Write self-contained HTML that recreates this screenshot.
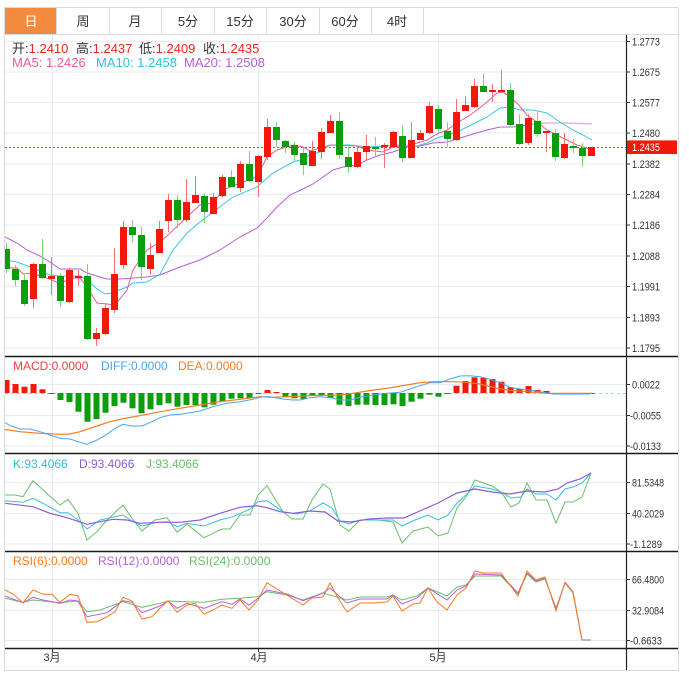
<!DOCTYPE html>
<html><head><meta charset="utf-8"><style>
html,body{margin:0;padding:0;background:#fff;width:689px;height:679px;overflow:hidden}
svg{display:block;font-family:"Liberation Sans","Noto Sans CJK SC",sans-serif}
</style></head><body>
<svg width="689" height="679" viewBox="0 0 689 679" xmlns="http://www.w3.org/2000/svg">
<defs>
<clipPath id="c"><rect x="5" y="34" width="621" height="614"/></clipPath>
</defs>
<rect x="0" y="0" width="689" height="679" fill="#fff"/>
<rect x="4.5" y="7.5" width="674" height="663" fill="none" stroke="#dcdcdc"/>
<!-- tabs -->
<g stroke="#dcdcdc" fill="none">
<rect x="5" y="8" width="51" height="26" fill="#f28b3e" stroke="none"/>
<line x1="56.5" y1="8" x2="56.5" y2="34"/><line x1="109.5" y1="8" x2="109.5" y2="34"/>
<line x1="161.5" y1="8" x2="161.5" y2="34"/><line x1="214.5" y1="8" x2="214.5" y2="34"/>
<line x1="266.5" y1="8" x2="266.5" y2="34"/><line x1="319.5" y1="8" x2="319.5" y2="34"/>
<line x1="371.5" y1="8" x2="371.5" y2="34"/><line x1="423.5" y1="8" x2="423.5" y2="34"/>
<line x1="5" y1="34.5" x2="678" y2="34.5"/>
</g>
<g font-size="13" text-anchor="middle" fill="#333">
<text x="31" y="26" fill="#fff">日</text><text x="83" y="26">周</text><text x="135" y="26">月</text>
<text x="188" y="26">5分</text><text x="240" y="26">15分</text><text x="293" y="26">30分</text>
<text x="345" y="26">60分</text><text x="397" y="26">4时</text>
</g>
<!-- grid -->
<g stroke="#e6edf2" stroke-width="1">
<line x1="52.5" y1="35" x2="52.5" y2="648"/><line x1="258.5" y1="35" x2="258.5" y2="648"/><line x1="438.5" y1="35" x2="438.5" y2="648"/>
<line x1="5" y1="41.5" x2="626" y2="41.5"/><line x1="5" y1="72" x2="626" y2="72"/><line x1="5" y1="102.5" x2="626" y2="102.5"/>
<line x1="5" y1="133" x2="626" y2="133"/><line x1="5" y1="164" x2="626" y2="164"/><line x1="5" y1="194.5" x2="626" y2="194.5"/>
<line x1="5" y1="225" x2="626" y2="225"/><line x1="5" y1="256" x2="626" y2="256"/><line x1="5" y1="286.5" x2="626" y2="286.5"/>
<line x1="5" y1="317.5" x2="626" y2="317.5"/><line x1="5" y1="348" x2="626" y2="348"/>
<line x1="5" y1="384.5" x2="626" y2="384.5"/><line x1="5" y1="415.5" x2="626" y2="415.5"/><line x1="5" y1="446" x2="626" y2="446"/>
<line x1="5" y1="482.5" x2="626" y2="482.5"/><line x1="5" y1="513.5" x2="626" y2="513.5"/><line x1="5" y1="544" x2="626" y2="544"/>
<line x1="5" y1="579.5" x2="626" y2="579.5"/><line x1="5" y1="610.5" x2="626" y2="610.5"/><line x1="5" y1="640.5" x2="626" y2="640.5"/>
</g>
<!-- legend -->
<g font-size="13">
<text x="12" y="53"><tspan fill="#333">开:</tspan><tspan fill="#f2251b">1.2410</tspan></text>
<text x="76" y="53"><tspan fill="#333">高:</tspan><tspan fill="#f2251b">1.2437</tspan></text>
<text x="139" y="53"><tspan fill="#333">低:</tspan><tspan fill="#f2251b">1.2409</tspan></text>
<text x="203" y="53"><tspan fill="#333">收:</tspan><tspan fill="#f2251b">1.2435</tspan></text>
<text x="12" y="67" fill="#ee5a92">MA5: 1.2426</text>
<text x="96" y="67" fill="#2fc3dc">MA10: 1.2458</text>
<text x="184" y="67" fill="#b660d4">MA20: 1.2508</text>
</g>
<g font-size="12">
<text x="13" y="370" fill="#f04040">MACD:0.0000</text>
<text x="101" y="370" fill="#4da3ef">DIFF:0.0000</text>
<text x="178" y="370" fill="#f77b22">DEA:0.0000</text>
<text x="13" y="468" fill="#2fbfd8">K:93.4066</text>
<text x="79" y="468" fill="#8e5ad8">D:93.4066</text>
<text x="146" y="468" fill="#6bbf6b">J:93.4066</text>
<text x="13" y="565" fill="#f77b22">RSI(6):0.0000</text>
<text x="98" y="565" fill="#b660d4">RSI(12):0.0000</text>
<text x="189" y="565" fill="#6bbf6b">RSI(24):0.0000</text>
</g>
<g clip-path="url(#c)">
<!-- price dotted line -->
<line x1="5" y1="147.5" x2="626" y2="147.5" stroke="#f03030" stroke-dasharray="2 2"/>
<!-- MA lines -->
<polyline fill="none" stroke="#b660d4" stroke-width="1" points="5,237 17,243 27,250 40,256 50,262 60,269 80,269 87,273 100,277 107,279 120,279 133,278 147,277 160,275 180,267 200,260 220,250 240,237 257,228 267,218 277,207 290,195 303,189 313,184 323,177 333,170 343,167 357,165 367,160 380,155 393,152 407,147 420,146 433,143 447,142 460,138 473,134 487,130 500,127 513,127 533,124"/>
<polyline fill="none" stroke="#d9a6e6" stroke-width="1.2" points="533,124 547,123 567,123 592,124"/>
<polyline fill="none" stroke="#3ec7de" stroke-width="1" points="5,260 17,262 33,268 42,272 50,275 60,276 80,276 87,280 97,289 105,294 112,293 127,287 133,283 147,282 160,274 173,250 187,233 200,222 213,212 233,197 257,187 273,173 293,162 300,160 310,155 320,152 330,145 350,145 367,147 387,146 400,145 413,147 427,143 437,138 447,135 457,132 467,127 477,122 487,117 500,108 510,107 520,110 533,110 547,113 560,122 573,130 583,135 592,140"/>
<polyline fill="none" stroke="#ee5a92" stroke-width="1" points="5,268 17,268 23,274 33,273 42,277 50,279 60,284 70,278 80,278 87,287 97,303 107,304 115,305 127,290 133,270 147,250 160,242 168,235 187,217 200,205 213,203 223,190 240,183 257,177 267,157 277,150 293,145 303,147 310,151 330,145 357,146 367,150 383,152 393,147 407,146 417,143 427,140 437,134 447,130 457,123 467,117 477,110 487,102 497,93 503,92 510,97 517,103 527,115 537,122 547,130 557,135 567,140 577,145 590,149"/>
<!-- candles wicks -->
<g fill="#7fd07f">
<rect x="6" y="243" width="1" height="30"/><rect x="15" y="265" width="1" height="21"/><rect x="24" y="275" width="1" height="31"/>
<rect x="42" y="239" width="1" height="40"/><rect x="60" y="273" width="1" height="34"/><rect x="87" y="264" width="1" height="76"/>
<rect x="132" y="220" width="1" height="22"/><rect x="141" y="227" width="1" height="53"/><rect x="177" y="195" width="1" height="33"/>
<rect x="204" y="193" width="1" height="30"/><rect x="231" y="170" width="1" height="17"/><rect x="249" y="151" width="1" height="31"/>
<rect x="276" y="122" width="1" height="25"/><rect x="285" y="140" width="1" height="13"/><rect x="294" y="142" width="1" height="20"/>
<rect x="303" y="147" width="1" height="28"/><rect x="339" y="112" width="1" height="47"/><rect x="348" y="147" width="1" height="26"/>
<rect x="375" y="137" width="1" height="20"/><rect x="402" y="125" width="1" height="37"/><rect x="438" y="105" width="1" height="28"/>
<rect x="447" y="122" width="1" height="25"/><rect x="483" y="74" width="1" height="18"/><rect x="510" y="83" width="1" height="43"/>
<rect x="519" y="114" width="1" height="31"/><rect x="537" y="112" width="1" height="25"/><rect x="555" y="129" width="1" height="32"/>
<rect x="573" y="139" width="1" height="14"/><rect x="582" y="143" width="1" height="24"/>
</g>
<g fill="#f27070">
<rect x="33" y="263" width="1" height="45"/><rect x="51" y="257" width="1" height="38"/><rect x="69" y="268" width="1" height="35"/>
<rect x="78" y="270" width="1" height="16"/><rect x="96" y="328" width="1" height="18"/><rect x="105" y="303" width="1" height="32"/>
<rect x="114" y="248" width="1" height="65"/><rect x="123" y="221" width="1" height="48"/><rect x="150" y="243" width="1" height="32"/>
<rect x="159" y="221" width="1" height="32"/><rect x="168" y="194" width="1" height="38"/><rect x="186" y="179" width="1" height="43"/>
<rect x="195" y="176" width="1" height="27"/><rect x="213" y="193" width="1" height="21"/><rect x="222" y="175" width="1" height="22"/>
<rect x="240" y="161" width="1" height="31"/><rect x="258" y="155" width="1" height="42"/><rect x="267" y="119" width="1" height="41"/>
<rect x="312" y="141" width="1" height="25"/><rect x="321" y="128" width="1" height="31"/><rect x="330" y="115" width="1" height="18"/>
<rect x="357" y="147" width="1" height="21"/><rect x="366" y="135" width="1" height="25"/><rect x="384" y="143" width="1" height="25"/>
<rect x="393" y="131" width="1" height="17"/><rect x="411" y="122" width="1" height="36"/><rect x="420" y="130" width="1" height="10"/>
<rect x="429" y="102" width="1" height="32"/><rect x="456" y="99" width="1" height="42"/><rect x="465" y="96" width="1" height="15"/>
<rect x="474" y="79" width="1" height="29"/><rect x="492" y="84" width="1" height="18"/><rect x="501" y="70" width="1" height="22"/>
<rect x="528" y="114" width="1" height="31"/><rect x="546" y="131" width="1" height="21"/><rect x="564" y="133" width="1" height="26"/>
<rect x="591" y="147" width="1" height="9"/>
</g>
<!-- green bodies -->
<g fill="#0b9e0b">
<rect x="3" y="249" width="7" height="20"/><rect x="12" y="269" width="7" height="11"/><rect x="21" y="280" width="7" height="24"/>
<rect x="39" y="264" width="7" height="14"/><rect x="57" y="276" width="7" height="25"/><rect x="84" y="276" width="7" height="63"/>
<rect x="129" y="227" width="7" height="8"/><rect x="138" y="235" width="7" height="32"/><rect x="174" y="200" width="7" height="20"/>
<rect x="201" y="196" width="7" height="16"/><rect x="228" y="177" width="7" height="10"/><rect x="246" y="164" width="7" height="17"/>
<rect x="273" y="127" width="7" height="13"/><rect x="282" y="141" width="7" height="6"/><rect x="291" y="145" width="7" height="10"/>
<rect x="300" y="153" width="7" height="12"/><rect x="336" y="121" width="7" height="34"/><rect x="345" y="157" width="7" height="10"/>
<rect x="372" y="147" width="7" height="2"/><rect x="399" y="136" width="7" height="22"/><rect x="435" y="109" width="7" height="20"/>
<rect x="444" y="131" width="7" height="8"/><rect x="480" y="86" width="7" height="6"/><rect x="507" y="90" width="7" height="35"/>
<rect x="516" y="124" width="7" height="20"/><rect x="534" y="121" width="7" height="13"/><rect x="552" y="133" width="7" height="24"/>
<rect x="570" y="146" width="7" height="2"/><rect x="579" y="148" width="7" height="8"/>
</g>
<!-- red bodies -->
<g fill="#f2190b">
<rect x="30" y="264" width="7" height="35"/><rect x="48" y="276" width="7" height="3"/><rect x="66" y="270" width="7" height="32"/>
<rect x="75" y="276" width="7" height="2"/><rect x="93" y="333" width="7" height="6"/><rect x="102" y="308" width="7" height="26"/>
<rect x="111" y="274" width="7" height="36"/><rect x="120" y="227" width="7" height="38"/><rect x="147" y="255" width="7" height="14"/>
<rect x="156" y="229" width="7" height="24"/><rect x="165" y="200" width="7" height="21"/><rect x="183" y="202" width="7" height="18"/>
<rect x="192" y="195" width="7" height="8"/><rect x="210" y="197" width="7" height="17"/><rect x="219" y="177" width="7" height="19"/>
<rect x="237" y="164" width="7" height="24"/><rect x="255" y="156" width="7" height="26"/><rect x="264" y="127" width="7" height="30"/>
<rect x="309" y="151" width="7" height="15"/><rect x="318" y="132" width="7" height="20"/><rect x="327" y="121" width="7" height="12"/>
<rect x="354" y="152" width="7" height="15"/><rect x="363" y="146" width="7" height="6"/><rect x="381" y="145" width="7" height="2"/>
<rect x="390" y="132" width="7" height="15"/><rect x="408" y="140" width="7" height="18"/><rect x="417" y="133" width="7" height="7"/>
<rect x="426" y="106" width="7" height="27"/><rect x="453" y="112" width="7" height="28"/><rect x="462" y="105" width="7" height="6"/>
<rect x="471" y="86" width="7" height="21"/><rect x="489" y="90" width="7" height="2"/><rect x="498" y="90" width="7" height="2"/>
<rect x="525" y="118" width="7" height="25"/><rect x="543" y="131" width="7" height="2"/><rect x="561" y="144" width="7" height="14"/>
<rect x="588" y="147" width="7" height="9"/>
</g>
<!-- MACD -->
<line x1="5" y1="393.5" x2="626" y2="393.5" stroke="#a9cde8" stroke-dasharray="3 3"/>
<g fill="#f2190b">
<rect x="3.5" y="380" width="6" height="13"/><rect x="12.5" y="384" width="6" height="9"/><rect x="21.5" y="386.7" width="6" height="6.3"/>
<rect x="30.5" y="384" width="6" height="9"/><rect x="39.5" y="389.3" width="6" height="3.7"/><rect x="264.5" y="390" width="6" height="3"/>
<rect x="273.5" y="392" width="6" height="1"/><rect x="453.5" y="385.7" width="6" height="7.3"/><rect x="462.5" y="381" width="6" height="12"/>
<rect x="471.5" y="377.3" width="6" height="15.7"/><rect x="480.5" y="377.7" width="6" height="15.3"/><rect x="489.5" y="379" width="6" height="14"/>
<rect x="498.5" y="381.7" width="6" height="11.3"/><rect x="507.5" y="387.3" width="6" height="5.7"/><rect x="516.5" y="389" width="6" height="4"/>
<rect x="525.5" y="386" width="6" height="7"/><rect x="534.5" y="390" width="6" height="3"/><rect x="543.5" y="391" width="6" height="2"/>
</g>
<g fill="#0b9e0b">
<rect x="48.5" y="393" width="6" height="1"/><rect x="57.5" y="393" width="6" height="7"/><rect x="66.5" y="393" width="6" height="9"/>
<rect x="75.5" y="393" width="6" height="18.7"/><rect x="84.5" y="393" width="6" height="28.7"/><rect x="93.5" y="393" width="6" height="26"/>
<rect x="102.5" y="393" width="6" height="19.7"/><rect x="111.5" y="393" width="6" height="13"/><rect x="120.5" y="393" width="6" height="9.7"/>
<rect x="129.5" y="393" width="6" height="15.3"/><rect x="138.5" y="393" width="6" height="20.3"/><rect x="147.5" y="393" width="6" height="16.3"/>
<rect x="156.5" y="393" width="6" height="12"/><rect x="165.5" y="393" width="6" height="10.3"/><rect x="174.5" y="393" width="6" height="13.7"/>
<rect x="183.5" y="393" width="6" height="12"/><rect x="192.5" y="393" width="6" height="12"/><rect x="201.5" y="393" width="6" height="14.3"/>
<rect x="210.5" y="393" width="6" height="11.7"/><rect x="219.5" y="393" width="6" height="8.7"/><rect x="228.5" y="393" width="6" height="5.7"/>
<rect x="237.5" y="393" width="6" height="5.3"/><rect x="246.5" y="393" width="6" height="5.3"/><rect x="255.5" y="393" width="6" height="1"/>
<rect x="282.5" y="393" width="6" height="3.7"/><rect x="291.5" y="393" width="6" height="5.3"/><rect x="300.5" y="393" width="6" height="6"/>
<rect x="309.5" y="393" width="6" height="3"/><rect x="318.5" y="393" width="6" height="2"/><rect x="327.5" y="393" width="6" height="4.7"/>
<rect x="336.5" y="393" width="6" height="11.7"/><rect x="345.5" y="393" width="6" height="13"/><rect x="354.5" y="393" width="6" height="11.7"/>
<rect x="363.5" y="393" width="6" height="11.7"/><rect x="372.5" y="393" width="6" height="12"/><rect x="381.5" y="393" width="6" height="12"/>
<rect x="390.5" y="393" width="6" height="11.3"/><rect x="399.5" y="393" width="6" height="13"/><rect x="408.5" y="393" width="6" height="8.7"/>
<rect x="417.5" y="393" width="6" height="5.7"/><rect x="426.5" y="393" width="6" height="1.7"/><rect x="435.5" y="393" width="6" height="3.7"/>
<rect x="444.5" y="393" width="6" height="1"/><rect x="552.5" y="393" width="6" height="1"/><rect x="561.5" y="393" width="6" height="1"/>
<rect x="570.5" y="393" width="6" height="1"/><rect x="579.5" y="393" width="6" height="1.5"/><rect x="588.5" y="393" width="6" height="1"/>
</g>
<polyline fill="none" stroke="#f77b22" stroke-width="1.2" points="5,429.5 20,431.7 40,433.3 60,434.3 70,434 80,431.7 90,428.3 100,425 110,421.7 120,419.3 140,415.7 160,411.7 180,408.3 200,405 220,401.7 240,399.3 260,396.7 270,397.3 290,396.7 310,395.7 340,395 353,393.3 367,391 387,388.3 407,385 420,382.7 433,381.7 453,381.7 467,382.3 480,384 493,387.3 507,390 527,391.7 547,393.3 592,393.3"/>
<polyline fill="none" stroke="#4da3ef" stroke-width="1" points="5,422.5 10,425.7 20,429 30,429 40,431.7 50,435 60,438.3 70,439 80,442.3 87,444.3 97,440 107,434.3 115,428.3 123,424.3 132,426 142,426 152,421.7 160,417.7 170,415 180,414.3 190,412.7 200,411 213,406.7 227,403.3 240,401.7 253,399.3 263,396.7 270,396.7 283,399 293,400 300,400 310,397.7 320,396.7 330,397.7 340,400 350,400 360,397.3 373,395 387,393.3 400,392.3 410,389 420,385.7 430,382.7 440,382.7 450,379 460,376 470,375.7 480,376.7 490,379.3 500,382.7 510,387.3 520,389 530,390 540,391.7 553,394 567,394 590,394"/>
<!-- KDJ -->
<polyline fill="none" stroke="#6bbf6b" stroke-width="1" points="5,495 15,495 23,496.7 33,480.7 43,490 60,505 68,499.3 78,513.3 87,540 97,531.7 107,520 123,505 132,518.3 142,531 155,520 167,517.7 177,532.3 187,524.3 204,537.7 213,533.3 222,529 230,529 240,515 250,515 258,495 267,485.7 277,502 283,511.7 292,519 303,519 312,500 323,484 330,489 340,525 349,531 360,520 378,520 393,522 402,543 413,531 428,527 438,536 448,533 457,508 466,497 475,480 492,486 501,492 511,507 519,503 527,483 536,500 547,500 556,523 565,502 573,502 582,497 591,473"/>
<polyline fill="none" stroke="#35c2da" stroke-width="1" points="5,500.7 23,502.3 33,498.3 43,503.3 60,512.7 68,512.7 78,520 87,529 100,520 123,515 133,521.7 142,526 157,522.3 168,521.7 177,526.7 187,523.3 204,526 220,520 233,516.7 250,509 258,501.7 267,500.7 283,511.7 297,514 310,510.7 323,503 332,508 340,521 349,524 360,520 382,520 393,520 402,526 415,520 428,515 438,520 448,515 457,503 466,495 475,486 492,489 501,492 511,498 521,497 527,489 536,494 547,494 556,500 565,489 573,487 582,483 591,473"/>
<polyline fill="none" stroke="#8e5ad8" stroke-width="1.2" points="5,503.3 33,506.7 50,513.3 67,517.7 87,524.3 100,521.7 113,519.3 127,520 140,523.3 160,522.3 180,522.3 200,520 220,513.3 240,507.3 257,505.7 267,507.7 280,511.7 293,513.3 310,511 325,512 338,521 351,522 369,519 387,518 404,518 422,510 438,503 457,493 475,489 492,492 510,494 527,491 545,492 558,489 567,483 580,479 591,473"/>
<!-- RSI -->
<polyline fill="none" stroke="#6bbf6b" stroke-width="1" points="5,598.3 23,602.3 33,600 60,602.7 78,601 87,611.7 100,610 123,601.7 142,607.3 160,603.3 168,601 187,601.7 204,602.3 222,599.3 240,598.3 258,596.7 267,591.7 287,595 303,600 323,593 347,600 360,597 387,597 393,595 402,600 417,596 428,588 447,596 457,587 466,585 475,576 501,576 518,594 527,574 536,582 545,579 556,608 565,583 573,593 582,640 591,640"/>
<polyline fill="none" stroke="#b660d4" stroke-width="1" points="5,596 23,602.7 33,597.3 43,600 60,603.3 70,600 78,601 87,616.7 107,612.7 123,600.7 132,602.3 142,612.7 160,606 168,601 177,608.3 187,603.3 204,608.3 222,601.7 232,604.3 240,599 249,605 258,598.3 267,590 287,594 303,600.7 323,593 330,588 340,597 347,603 360,599 387,599 393,595 402,604 417,598 428,588 447,600 457,590 466,586 475,574 501,575 518,593 527,573 536,581 545,578 556,609 565,583 573,592 582,640"/>
<polyline fill="none" stroke="#f77b22" stroke-width="1" points="5,590 13,594 23,602.7 33,590 43,594.3 52,594.3 60,602.3 70,594.3 78,595.7 87,622.3 97,621.7 107,616.7 115,611.7 123,597.3 132,601 142,619 152,616.7 160,608.3 168,600.7 177,612.3 187,605 195,603.3 204,614.3 213,610 222,605 232,608.3 240,600 249,610 258,600 267,582.7 277,589 290,597 303,605 312,598 323,597 330,583 338,598 347,612 360,603 373,603 387,602 393,596 402,611 413,604 420,603 428,588 437,602 447,610 457,595 466,588 475,571 483,573 501,573 518,596 527,571 536,580 545,577 556,611 565,582 573,592 582,640"/>
<line x1="582" y1="640" x2="591" y2="640" stroke="#a8a8a0" stroke-width="1.5"/>
</g>
<!-- panel separators & axis -->
<g stroke="#1a1a1a" stroke-width="1.4">
<line x1="5" y1="356.5" x2="678" y2="356.5"/><line x1="5" y1="453.5" x2="678" y2="453.5"/>
<line x1="5" y1="551.5" x2="678" y2="551.5"/><line x1="5" y1="648.5" x2="678" y2="648.5"/>
</g>
<line x1="626.5" y1="35" x2="626.5" y2="670" stroke="#222" stroke-width="1.2"/>
<!-- axis ticks -->
<g stroke="#333" stroke-width="1">
<line x1="626" y1="41.5" x2="630" y2="41.5"/><line x1="626" y1="72" x2="630" y2="72"/><line x1="626" y1="102.5" x2="630" y2="102.5"/>
<line x1="626" y1="133" x2="630" y2="133"/><line x1="626" y1="164" x2="630" y2="164"/><line x1="626" y1="194.5" x2="630" y2="194.5"/>
<line x1="626" y1="225" x2="630" y2="225"/><line x1="626" y1="256" x2="630" y2="256"/><line x1="626" y1="286.5" x2="630" y2="286.5"/>
<line x1="626" y1="317.5" x2="630" y2="317.5"/><line x1="626" y1="348" x2="630" y2="348"/>
<line x1="626" y1="384.5" x2="630" y2="384.5"/><line x1="626" y1="415.5" x2="630" y2="415.5"/><line x1="626" y1="446" x2="630" y2="446"/>
<line x1="626" y1="482.5" x2="630" y2="482.5"/><line x1="626" y1="513.5" x2="630" y2="513.5"/><line x1="626" y1="544" x2="630" y2="544"/>
<line x1="626" y1="579.5" x2="630" y2="579.5"/><line x1="626" y1="610.5" x2="630" y2="610.5"/><line x1="626" y1="640.5" x2="630" y2="640.5"/>
<line x1="52.5" y1="648" x2="52.5" y2="652"/><line x1="258.5" y1="648" x2="258.5" y2="652"/><line x1="438.5" y1="648" x2="438.5" y2="652"/>
</g>
<g font-size="11" fill="#333" lengthAdjust="spacingAndGlyphs">
<text x="632" y="45.5" textLength="28" lengthAdjust="spacingAndGlyphs">1.2773</text>
<text x="632" y="76" textLength="28" lengthAdjust="spacingAndGlyphs">1.2675</text>
<text x="632" y="106.5" textLength="28" lengthAdjust="spacingAndGlyphs">1.2577</text>
<text x="632" y="137" textLength="28" lengthAdjust="spacingAndGlyphs">1.2480</text>
<text x="632" y="168" textLength="28" lengthAdjust="spacingAndGlyphs">1.2382</text>
<text x="632" y="198.5" textLength="28" lengthAdjust="spacingAndGlyphs">1.2284</text>
<text x="632" y="229" textLength="28" lengthAdjust="spacingAndGlyphs">1.2186</text>
<text x="632" y="260" textLength="28" lengthAdjust="spacingAndGlyphs">1.2088</text>
<text x="632" y="290.5" textLength="28" lengthAdjust="spacingAndGlyphs">1.1991</text>
<text x="632" y="321.5" textLength="28" lengthAdjust="spacingAndGlyphs">1.1893</text>
<text x="632" y="352" textLength="28" lengthAdjust="spacingAndGlyphs">1.1795</text>
<text x="632" y="388.5" textLength="28" lengthAdjust="spacingAndGlyphs">0.0022</text>
<text x="630" y="419.5" textLength="31" lengthAdjust="spacingAndGlyphs">-0.0055</text>
<text x="630" y="450" textLength="31" lengthAdjust="spacingAndGlyphs">-0.0133</text>
<text x="632" y="486.5" textLength="32" lengthAdjust="spacingAndGlyphs">81.5348</text>
<text x="632" y="517.5" textLength="32" lengthAdjust="spacingAndGlyphs">40.2029</text>
<text x="630" y="548" textLength="32" lengthAdjust="spacingAndGlyphs">-1.1289</text>
<text x="632" y="583.5" textLength="32" lengthAdjust="spacingAndGlyphs">66.4800</text>
<text x="632" y="614.5" textLength="32" lengthAdjust="spacingAndGlyphs">32.9084</text>
<text x="630" y="644.5" textLength="32" lengthAdjust="spacingAndGlyphs">-0.6633</text>
</g>
<!-- current price box -->
<rect x="627" y="140" width="50" height="14" fill="#f2190b"/>
<line x1="627" y1="140.5" x2="677" y2="140.5" stroke="#f77a70"/>
<text x="632" y="151" font-size="11" fill="#fff" textLength="28" lengthAdjust="spacingAndGlyphs">1.2435</text>
<!-- months -->
<g font-size="11" fill="#333" text-anchor="middle">
<text x="52" y="661">3月</text><text x="259" y="661">4月</text><text x="438" y="661">5月</text>
</g>
</svg>
</body></html>
